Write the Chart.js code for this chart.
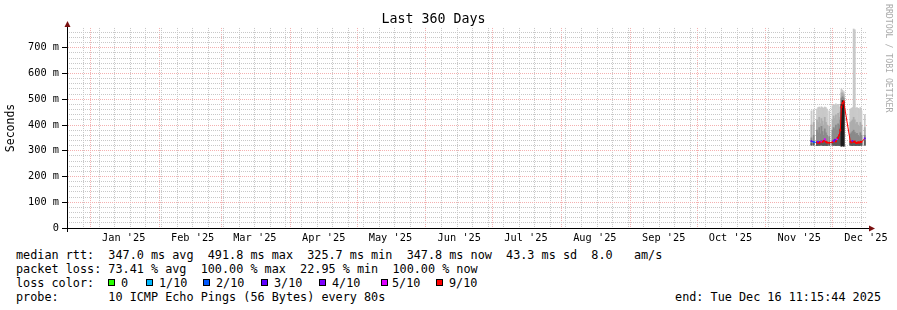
<!DOCTYPE html>
<html>
<head>
<meta charset="utf-8">
<script src="https://cdn.jsdelivr.net/npm/chart.js@4.4.1/dist/chart.umd.min.js"></script>
<style>
  html, body { margin: 0; padding: 0; background: #fff; }
  body { width: 897px; height: 310px; position: relative; overflow: hidden; font-family: "DejaVu Sans Mono", monospace; color: #000; }
  #wrap { position: absolute; left: 0; top: 0; width: 897px; height: 246px; }
  .t { position: absolute; font-size: 11.8px; line-height: 14px; white-space: pre; }
  .box { position: absolute; top: 279px; width: 5px; height: 5px; border: 1px solid #000; }
  #mark { position: absolute; left: 884px; top: 4px; writing-mode: vertical-rl; font-size: 8.2px; line-height: 10px; color: #aaa; white-space: pre; }
</style>
</head>
<body>
<div id="wrap"><canvas id="smoke" width="897" height="246"></canvas></div>
<div id="mark">RRDTOOL / TOBI OETIKER</div>
<div id="legend"></div>

<script>
// time window: last 360 days up to the end stamp
const endStamp = Date.UTC(2025, 11, 16, 11, 15, 44);
const spanDays = 360;
const startStamp = endStamp - spanDays * 86400000;

const monthLabels = ["Jan '25", "Feb '25", "Mar '25", "Apr '25", "May '25", "Jun '25",
                     "Jul '25", "Aug '25", "Sep '25", "Oct '25", "Nov '25", "Dec '25"];
const monthStarts = ['2025-01-01', '2025-02-01', '2025-03-01', '2025-04-01', '2025-05-01', '2025-06-01',
                     '2025-07-01', '2025-08-01', '2025-09-01', '2025-10-01', '2025-11-01', '2025-12-01'];
const firstSunday = '2024-12-29';
const yTicks = [0, 100, 200, 300, 400, 500, 600, 700];   // ms
const yMax = 777;

// ping columns (day offset from start of window), values in ms
const days     = [335, 336, 337.5, 338, 338.5, 339, 339.5, 340, 340.5, 341, 341.5, 342, 343,
                  344.5, 345, 345.5, 346, 346.5, 347, 347.5, 348, 348.5, 349, 349.5,
                  352.5, 353, 353.5, 354, 354.5, 355, 355.5, 356, 356.5, 357, 357.5, 359];
const pingMax  = [455, 460, 462, 468, 470, 466, 471, 468, 465, 470, 468, 462, 455,
                  475, 480, 478, 482, 476, 480, 470, 478, 540, 535, 530,
                  462, 465, 468, 773, 770, 466, 468, 465, 462, 468, 455, 440];
const pingHigh = [400, 410, 420, 410, 430, 405, 425, 415, 400, 430, 410, 400, 395,
                  420, 435, 425, 440, 420, 445, 430, 450, 525, 525, 520,
                  410, 415, 420, 430, 420, 405, 410, 400, 395, 410, 400, 390];
const pingMid  = [350, 360, 380, 370, 390, 365, 395, 375, 360, 385, 370, 360, 355,
                  380, 390, 385, 400, 380, 405, 400, 420, 505, 510, 505,
                  365, 370, 375, 380, 372, 365, 368, 360, 355, 370, 360, 360];
const pingLow  = [328, 330, 333, 332, 336, 330, 340, 333, 331, 342, 333, 330, 329,
                  332, 340, 345, 336, 350, 355, 362, 385, 480, 495, 490,
                  331, 333, 336, 335, 333, 331, 330, 329, 328, 332, 330, 340];
const pingMin  = [322, 322, 320, 322, 321, 322, 323, 321, 320, 322, 321, 320, 321,
                  322, 321, 322, 320, 321, 322, 320, 322, 318, 320, 318,
                  322, 321, 320, 322, 321, 320, 322, 321, 320, 322, 321, 322];
const medianRtt = [337, 334, 332, 335, 330, 333, 336, 334, 338, 345, 335, 332, 331,
                   333, 338, 342, 336, 345, 350, 360, 380, 470, 485, 491.8,
                   335, 332, 338, 334, 336, 331, 330, 333, 331, 335, 334, 347.8];
const lostPings = [3, 2, 9, 4, 9, 9, 5, 9, 9, 5, 9, 9, 9,
                   9, 4, 3, 9, 5, 9, 9, 9, 9, 9, 9,
                   9, 9, 4, 9, 9, 9, 9, 9, 9, 9, 9, 3];

const lossSteps  = [0, 1, 2, 3, 4, 5, 9];
const lossLabels = ['0', '1/10', '2/10', '3/10', '4/10', '5/10', '9/10'];
const lossColors = ['#26ff00', '#00b8ff', '#0059ff', '#5e00ff', '#7e00ff', '#dd00ff', '#ff0000'];

const statLines = [
  'median rtt:  347.0 ms avg  491.8 ms max  325.7 ms min  347.8 ms now  43.3 ms sd  8.0   am/s',
  'packet loss: 73.41 % avg  100.00 % max  22.95 % min  100.00 % now'
];
const probeText = 'probe:       10 ICMP Echo Pings (56 Bytes) every 80s';
const endText = 'end: Tue Dec 16 11:15:44 2025';

function dayOf(s) { return (Date.parse(s + 'T00:00:00Z') - startStamp) / 86400000; }
function lossColor(n) {
  let c = lossColors[0];
  lossSteps.forEach((s, i) => { if (n >= s) c = lossColors[i]; });
  return c;
}

const monthDays = monthStarts.map(dayOf);
const labelDays = monthDays.map(d => d + 15);
const weekDays = [];
for (let d = dayOf(firstSunday); d < spanDays; d += 7) weekDays.push(d);
const minorY = [];
for (let v = 20; v < yMax; v += 20) minorY.push(v);

function band(top) { return days.map((d, i) => ({ x: d, y: [pingMin[i], top[i]] })); }

const mono = 'DejaVu Sans Mono';
const redGrid = '#f4b0b0';
const greyGrid = '#c8c8c8';

// extends axis lines and draws the little arrow heads
const axisArrows = {
  id: 'axisArrows',
  afterDraw(chart) {
    const { ctx, chartArea: a } = chart;
    const x0 = Math.round(a.left) + 0.5, y0 = Math.round(a.bottom) + 0.5;
    ctx.save();
    ctx.strokeStyle = '#000';
    ctx.lineWidth = 1;
    ctx.beginPath();
    ctx.moveTo(x0, a.top - 2); ctx.lineTo(x0, a.bottom + 4);
    ctx.moveTo(a.left - 4, y0); ctx.lineTo(a.right + 4, y0);
    ctx.stroke();
    ctx.fillStyle = '#7a1010';
    ctx.beginPath();
    ctx.moveTo(x0 - 3, a.top - 1); ctx.lineTo(x0 + 3, a.top - 1); ctx.lineTo(x0, a.top - 7);
    ctx.closePath(); ctx.fill();
    ctx.beginPath();
    ctx.moveTo(a.right + 2, y0 - 3); ctx.lineTo(a.right + 2, y0 + 3); ctx.lineTo(a.right + 8, y0);
    ctx.closePath(); ctx.fill();
    ctx.restore();
  }
};

const smokeBar = { type: 'bar', xAxisID: 'x', yAxisID: 'y', grouped: false,
                   barPercentage: 1, categoryPercentage: 1, borderWidth: 0 };

new Chart(document.getElementById('smoke'), {
  type: 'bar',
  data: {
    datasets: [
      { type: 'line', label: 'median', xAxisID: 'x', yAxisID: 'y', order: 1,
        data: days.map((d, i) => ({ x: d, y: medianRtt[i] })),
        borderWidth: 1, tension: 0, spanGaps: 0.6,
        pointStyle: 'rect', pointRadius: 1.3, pointBorderWidth: 0,
        pointBackgroundColor: c => lossColor(lostPings[c.dataIndex]),
        segment: { borderColor: c => lossColor(lostPings[c.p0DataIndex]) } },
      // the densest part of the smoke goes near black where the pings bunch up high
      Object.assign({ label: 'low', order: 2, data: band(pingLow),
        backgroundColor: c => (pingLow[c.dataIndex] - pingMin[c.dataIndex] > 100) ? '#1c1c1c' : '#5c5c5c' }, smokeBar),
      Object.assign({ label: 'mid', order: 3, data: band(pingMid), backgroundColor: '#8a8a8a' }, smokeBar),
      Object.assign({ label: 'high', order: 4, data: band(pingHigh), backgroundColor: '#adadad' }, smokeBar),
      Object.assign({ label: 'max', order: 5, data: band(pingMax), backgroundColor: '#c9c9c9' }, smokeBar)
    ]
  },
  options: {
    responsive: false,
    animation: false,
    layout: { padding: { left: 0, right: 30, top: 0, bottom: 0 } },
    plugins: {
      legend: { display: false },
      tooltip: { enabled: false },
      title: { display: true, text: 'Last 360 Days', color: '#000',
               font: { family: mono, size: 13.3, weight: 'normal' }, padding: { top: 12, bottom: 0 } }
    },
    scales: {
      x: {
        type: 'linear', position: 'bottom', min: 0, max: spanDays, offset: false,
        afterBuildTicks: s => { s.ticks = labelDays.map(v => ({ value: v })); },
        afterFit: s => { s.height = 18; },
        ticks: { autoSkip: false, maxRotation: 0, padding: 4, color: '#000',
                 font: { family: mono, size: 10.3 }, callback: (v, i) => monthLabels[i] },
        grid: { display: false, drawTicks: false, offset: false },
        border: { display: true, color: '#000' }
      },
      xWeek: {
        type: 'linear', position: 'bottom', min: 0, max: spanDays, offset: false,
        afterBuildTicks: s => { s.ticks = weekDays.map(v => ({ value: v })); },
        afterFit: s => { s.height = 0; },
        ticks: { display: false },
        grid: { color: greyGrid, drawTicks: false, offset: false },
        border: { display: false, dash: [1, 1] }
      },
      xMonth: {
        type: 'linear', position: 'bottom', min: 0, max: spanDays, offset: false,
        afterBuildTicks: s => { s.ticks = monthDays.map(v => ({ value: v })); },
        afterFit: s => { s.height = 0; },
        ticks: { display: false },
        grid: { color: redGrid, drawTicks: false, offset: false },
        border: { display: false, dash: [1, 1] }
      },
      yMinor: {
        type: 'linear', position: 'left', min: 0, max: yMax,
        afterBuildTicks: s => { s.ticks = minorY.map(v => ({ value: v })); },
        afterFit: s => { s.width = 0; },
        ticks: { display: false },
        grid: { color: c => (c.tick && c.tick.value % 100 === 0) ? 'transparent' : greyGrid, drawTicks: false },
        border: { display: false, dash: [1, 1] }
      },
      y: {
        type: 'linear', position: 'left', min: 0, max: yMax,
        afterBuildTicks: s => { s.ticks = yTicks.map(v => ({ value: v })); },
        afterFit: s => { s.width = 67; },
        ticks: { padding: 3, color: '#000', font: { family: mono, size: 10.3 },
                 callback: v => v === 0 ? '0' : v + ' m' },
        grid: { color: redGrid, tickColor: '#000', tickLength: 5, drawTicks: true },
        border: { display: true, color: '#000', dash: [1, 1] },
        title: { display: true, text: 'Seconds', color: '#000',
                 font: { family: mono, size: 11.5 }, padding: { top: 4, bottom: 0 } }
      }
    }
  },
  plugins: [axisArrows]
});

// text legend under the graph
const legend = document.getElementById('legend');
function addText(txt, left, top, right) {
  const el = document.createElement('div');
  el.className = 't';
  el.textContent = txt;
  el.style.top = top + 'px';
  if (right !== undefined) el.style.right = right + 'px'; else el.style.left = left + 'px';
  legend.appendChild(el);
}
addText(statLines[0], 16, 248);
addText(statLines[1], 16, 262);
addText('loss color:', 16, 276);
const boxX = [108, 146, 203, 261, 319, 381, 436];
const boxLabelX = [121, 159, 216, 274, 332, 392, 449];
lossLabels.forEach((lab, i) => {
  const b = document.createElement('div');
  b.className = 'box';
  b.style.left = boxX[i] + 'px';
  b.style.background = lossColors[i];
  legend.appendChild(b);
  addText(lab, boxLabelX[i], 276);
});
addText(probeText, 16, 290);
addText(endText, 0, 290, 16);
</script>
</body>
</html>
